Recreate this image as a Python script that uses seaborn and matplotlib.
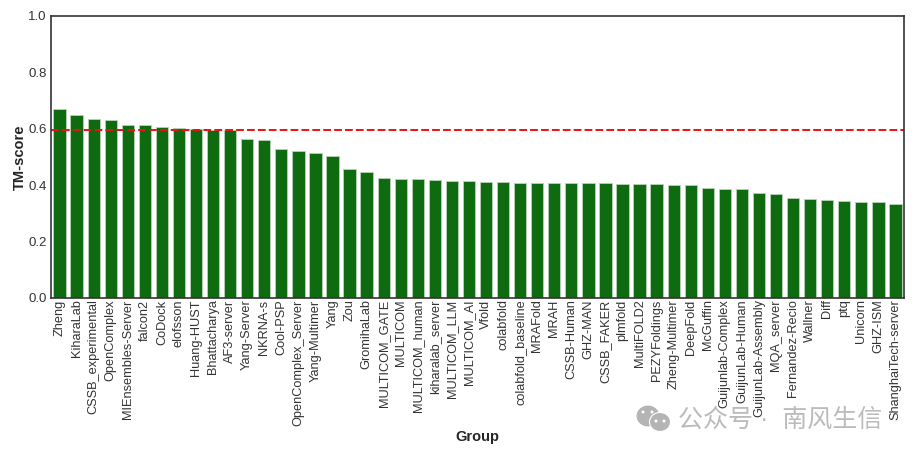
# Importing libraries.
import matplotlib
matplotlib.use("Agg")
import matplotlib.pyplot as plt
from matplotlib.patches import Ellipse
import seaborn as sns
import pandas as pd

groups = ["Zheng", "KiharaLab", "CSSB_experimental", "OpenComplex", "MIEnsembles-Server",
          "falcon2", "CoDock", "elofsson", "Huang-HUST", "Bhattacharya",
          "AF3-server", "Yang-Server", "NKRNA-s", "Cool-PSP", "OpenComplex_Server",
          "Yang-Multimer", "Yang", "Zou", "GromihaLab", "MULTICOM_GATE",
          "MULTICOM", "MULTICOM_human", "kiharalab_server", "MULTICOM_LLM", "MULTICOM_AI",
          "Vfold", "colabfold", "colabfold_baseline", "MRAFold", "MRAH",
          "CSSB-Human", "GHZ-MAN", "CSSB_FAKER", "plmfold", "MultiFOLD2",
          "PEZYFoldings", "Zheng-Multimer", "DeepFold", "McGuffin", "Guijunlab-Complex",
          "GuijunLab-Human", "GuijunLab-Assembly", "MQA_server", "Fernandez-Recio", "Wallner",
          "Diff", "ptq", "Unicorn", "GHZ-ISM", "ShanghaiTech-server"]
scores = [0.669, 0.648, 0.634, 0.630, 0.615,
          0.613, 0.606, 0.603, 0.600, 0.597,
          0.596, 0.564, 0.561, 0.527, 0.521,
          0.514, 0.503, 0.456, 0.446, 0.425,
          0.422, 0.421, 0.418, 0.416, 0.415,
          0.413, 0.410, 0.409, 0.408, 0.408,
          0.407, 0.407, 0.407, 0.406, 0.406,
          0.404, 0.402, 0.401, 0.391, 0.388,
          0.386, 0.372, 0.368, 0.354, 0.350,
          0.347, 0.345, 0.342, 0.341, 0.334]
threshold = 0.595
y_ticks = [0.0, 0.2, 0.4, 0.6, 0.8, 1.0]

df = pd.DataFrame({"Group": groups, "TM-score": scores})

sns.set_theme(style="white")
plt.rcParams["font.family"] = ["Liberation Sans", "Noto Sans CJK SC", "DejaVu Sans"]

fig = plt.figure(figsize=(9.14, 4.57), dpi=100)
ax = fig.add_axes([51 / 914, 1 - 298 / 457, 853 / 914, 282 / 457])

# Bars with the pale edge seen in the reference.
sns.barplot(data=df, x="Group", y="TM-score", color="#0f6b10", saturation=1,
            width=0.72, edgecolor="#b9d3b9", linewidth=0.6, ax=ax)
ax.axhline(threshold, color="#ee1111", linestyle="--", linewidth=1.4, dashes=(4, 1.6))

ax.set_xlim(-0.5, len(groups) - 0.5)
ax.set_ylim(0, 1)
ax.set_yticks(y_ticks)
ax.set_yticklabels([f"{t:.1f}" for t in y_ticks], fontsize=9.5, color="#333333")
ax.tick_params(axis="x", rotation=90, labelsize=9.2, labelcolor="#333333", length=0, pad=1)
ax.tick_params(axis="y", length=0, pad=3)
ax.set_xlabel("Group", fontsize=10.5, fontweight="bold", color="#262626", labelpad=3)
ax.set_ylabel("TM-score", fontsize=10.5, fontweight="bold", color="#262626", labelpad=1)
for side in ax.spines.values():
    side.set_color("#333333")
    side.set_linewidth(1.2)

# Watermark.
fig.text(678 / 914, 1 - 420 / 457, "公众号 ·  南风生信", fontsize=18, color="#b4b4b4",
         va="center", ha="left", zorder=5, alpha=0.9)
for cx, cy, w, h in [(648, 416, 24, 22), (660, 422, 21, 19)]:
    fig.add_artist(Ellipse((cx / 914, 1 - cy / 457), w / 914, h / 457,
                           transform=fig.transFigure, fc="#b4b4b4", ec="white", lw=0.8))
for cx, cy in [(643, 412), (652, 412), (656, 421), (664, 421)]:
    fig.add_artist(Ellipse((cx / 914, 1 - cy / 457), 3 / 914, 3 / 457,
                           transform=fig.transFigure, fc="white", ec="none"))

fig.savefig("out.png", dpi=100)
